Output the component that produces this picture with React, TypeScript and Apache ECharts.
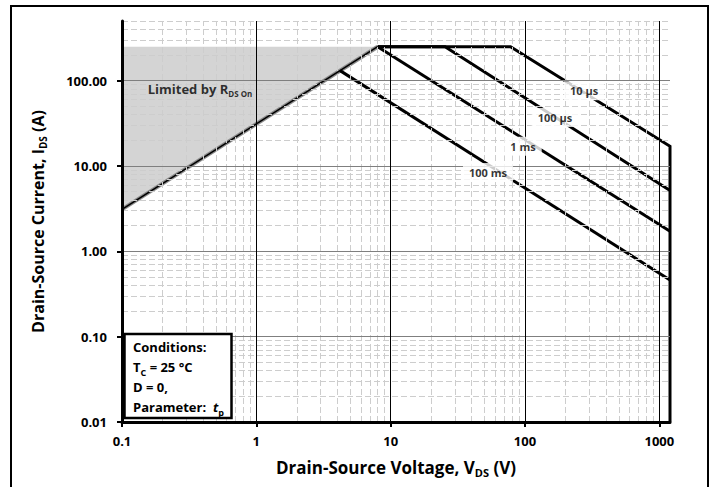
import React, { useEffect, useRef } from 'react';
import * as echarts from 'echarts';

// Axis ranges and tick labels
const X_MIN = 0.1;
const X_MAX = 1200;
const Y_MIN = 0.01;
const Y_MAX = 500;
const xTicks = [0.1, 1, 10, 100, 1000];
const yTicks = [0.01, 0.1, 1, 10, 100];

// R_DS(on) limit line (V, A)
const rdsV = [0.1, 8.0];
const rdsI = [3.1, 250];
// shaded region "Limited by R_DS On"
const limitV = [0.1, 8.0, 0.1];
const limitI = [3.1, 250, 250];

// Safe operating area boundaries for pulse widths t_p
const t10usV = [8.0, 78, 1200, 1200];
const t10usI = [250, 250, 17, 0.01];
const t100usV = [8.0, 25.4, 1200];
const t100usI = [250, 250, 5.15];
const t1msV = [8.0, 1200];
const t1msI = [250, 1.72];
const t100msV = [4.2, 1200];
const t100msI = [131, 0.46];

// Curve labels (placed on the curves)
const labelNames = ['10 µs', '100 µs', '1 ms', '100 ms'];
const labelV = [275, 167, 96.6, 53];
const labelI = [76, 37, 17, 8.4];

const FONT = "'Open Sans', 'Noto Sans', sans-serif";

function minorValues(decades: number[], max: number) {
  const out: number[] = [];
  decades.forEach((d) => {
    for (let k = 2; k <= 9; k++) {
      const v = +(d * k).toPrecision(6);
      if (v <= max) out.push(v);
    }
  });
  return out;
}

const zip = (a: number[], b: number[]) => a.map((v, i) => [v, b[i]]);

export default function App() {
  const ref = useRef<HTMLDivElement>(null);
  useEffect(() => {
    if (!ref.current) return;
    const chart = echarts.init(ref.current, undefined, { renderer: 'svg' });

    const xMinor = minorValues(xTicks, X_MAX);
    const yMinor = minorValues(yTicks, Y_MAX);
    const xMajor = xTicks.filter((v) => v > X_MIN);
    const yMajor = yTicks.filter((v) => v > Y_MIN);

    const minorStyle = { color: '#cdcdcd', width: 1, type: [6, 3] as any };

    const curve = (name: string, v: number[], i: number[]) => ({
      name,
      type: 'line',
      data: zip(v, i),
      symbol: 'none',
      silent: true,
      z: 4,
      lineStyle: { color: '#000', width: 3, cap: 'butt', join: 'miter' },
    });

    const option: any = {
      animation: false,
      backgroundColor: '#fff',
      grid: {
        left: 122,
        top: 21,
        right: 45,
        bottom: 65,
        containLabel: false,
        outerBoundsMode: 'none',
      },
      xAxis: {
        type: 'log',
        logBase: 10,
        min: X_MIN,
        max: X_MAX,
        z: 10,
        axisLine: { show: true, lineStyle: { color: '#000', width: 3 } },
        axisTick: { show: true, length: 5, lineStyle: { color: '#000', width: 2 }, customValues: xTicks },
        axisLabel: {
          customValues: xTicks,
          margin: 12,
          fontFamily: FONT,
          fontWeight: 'bold',
          fontSize: 13,
          color: '#000',
          formatter: (v: number) => (v < 1 ? v.toFixed(1) : String(Math.round(v))),
        },
        splitLine: { show: false },
        minorTick: { show: false },
        name: '{b|Drain-Source Voltage, V}{s|DS}{b| (V)}',
        nameLocation: 'middle',
        nameGap: 34,
        nameTextStyle: {
          rich: {
            b: { fontFamily: FONT, fontWeight: 'bold', fontSize: 17, color: '#000', lineHeight: 22 },
            s: { fontFamily: FONT, fontWeight: 'bold', fontSize: 11, color: '#000', lineHeight: 12, verticalAlign: 'bottom' },
          },
        },
      },
      yAxis: {
        type: 'log',
        logBase: 10,
        min: Y_MIN,
        max: Y_MAX,
        z: 10,
        axisLine: { show: true, lineStyle: { color: '#000', width: 3 } },
        axisTick: { show: true, length: 5, lineStyle: { color: '#000', width: 2 }, customValues: yTicks },
        axisLabel: {
          customValues: yTicks,
          margin: 15,
          fontFamily: FONT,
          fontWeight: 'bold',
          fontSize: 13,
          color: '#000',
          formatter: (v: number) => v.toFixed(2),
        },
        splitLine: { show: false },
        minorTick: { show: false },
        name: '{b|Drain-Source Current, I}{s|DS}{b| (A)}',
        nameLocation: 'middle',
        nameGap: 74,
        nameTextStyle: {
          rich: {
            b: { fontFamily: FONT, fontWeight: 'bold', fontSize: 16, color: '#000', lineHeight: 21 },
            s: { fontFamily: FONT, fontWeight: 'bold', fontSize: 10, color: '#000', lineHeight: 11, verticalAlign: 'bottom' },
          },
        },
      },
      series: [
        {
          name: 'limitFill',
          type: 'custom',
          silent: true,
          z: 1,
          data: zip(limitV, limitI),
          renderItem: (params: any, api: any) => {
            if (params.dataIndex !== 0) return null;
            const pts = zip(limitV, limitI).map((p) => api.coord(p));
            return { type: 'polygon', shape: { points: pts }, style: { fill: '#d4d4d4' } };
          },
        },
        {
          name: 'grid',
          type: 'line',
          data: [],
          silent: true,
          z: 2,
          markLine: {
            silent: true,
            symbol: 'none',
            animation: false,
            label: { show: false },
            data: [
              ...xMinor.map((v) => ({ xAxis: v, lineStyle: minorStyle })),
              ...yMinor.map((v) => ({ yAxis: v, lineStyle: minorStyle })),
              ...yMajor.map((v) => ({ yAxis: v, lineStyle: { color: '#7f7f7f', width: 1, type: 'solid' } })),
              ...xMajor.map((v) => ({ xAxis: v, lineStyle: { color: '#000', width: 1, type: 'solid' } })),
            ],
          },
        },
        {
          name: 'rdsShadow',
          type: 'line',
          data: zip(rdsV, rdsI),
          symbol: 'none',
          silent: true,
          z: 3,
          lineStyle: { color: '#8c8c8c', width: 4 },
        },
        {
          name: 'rds',
          type: 'line',
          data: zip(rdsV, rdsI),
          symbol: 'none',
          silent: true,
          z: 3,
          lineStyle: { color: '#000', width: 1.6 },
        },
        curve('10 µs', t10usV, t10usI),
        curve('100 µs', t100usV, t100usI),
        curve('1 ms', t1msV, t1msI),
        curve('100 ms', t100msV, t100msI),
        {
          name: 'labels',
          type: 'scatter',
          silent: true,
          z: 6,
          symbolSize: 1,
          itemStyle: { color: 'rgba(0,0,0,0)' },
          data: labelNames.map((n, i) => ({ name: n, value: [labelV[i], labelI[i]] })),
          label: {
            show: true,
            position: 'inside',
            formatter: '{b}',
            backgroundColor: '#fff',
            padding: [4, 6],
            fontFamily: FONT,
            fontWeight: 'bold',
            fontSize: 11,
            color: '#000',
          },
        },
        {
          name: 'limitLabel',
          type: 'scatter',
          silent: true,
          z: 6,
          symbolSize: 1,
          itemStyle: { color: 'rgba(0,0,0,0)' },
          data: [{ name: 'limited', value: [0.154, 80.6] }],
          label: {
            show: true,
            position: 'right',
            distance: 0,
            color: '#000',
            formatter: '{b|Limited by R}{s|DS On}',
            rich: {
              b: { fontFamily: FONT, fontWeight: 'bold', fontSize: 13, color: '#000', lineHeight: 18 },
              s: { fontFamily: FONT, fontWeight: 'bold', fontSize: 8, color: '#000', lineHeight: 9, verticalAlign: 'bottom' },
            },
          },
        },
      ],
      graphic: [
        {
          type: 'rect',
          z: 100,
          silent: true,
          shape: { x: 11, y: 6, width: 697, height: 490 },
          style: { fill: 'none', stroke: '#000', lineWidth: 2 },
        },
        {
          type: 'group',
          z: 100,
          silent: true,
          children: [
            {
              type: 'rect',
              z: 100,
              shape: { x: 124.5, y: 334, width: 107, height: 84 },
              style: { fill: '#fff', stroke: '#000', lineWidth: 2.5 },
            },
            {
              type: 'text',
              z: 101,
              x: 133,
              y: 337,
              style: {
                text: '{b|Conditions:}\n{b|T}{s|C}{b| = 25 °C}\n{b|D = 0,}\n{b|Parameter:  }{i|t}{s|p}',
                rich: {
                  b: { fontFamily: FONT, fontWeight: 'bold', fontSize: 13, fill: '#000', lineHeight: 20 },
                  i: { fontFamily: FONT, fontWeight: 'bold', fontStyle: 'italic', fontSize: 13, fill: '#000', lineHeight: 20 },
                  s: { fontFamily: FONT, fontWeight: 'bold', fontSize: 9, fill: '#000', lineHeight: 13, verticalAlign: 'bottom' },
                },
              },
            },
          ],
        },
      ],
    };

    chart.setOption(option);
    return () => chart.dispose();
  }, []);

  return (
    <div
      ref={ref}
      style={{ position: 'absolute', left: 0, top: 0, width: 715, height: 487 }}
    />
  );
}
